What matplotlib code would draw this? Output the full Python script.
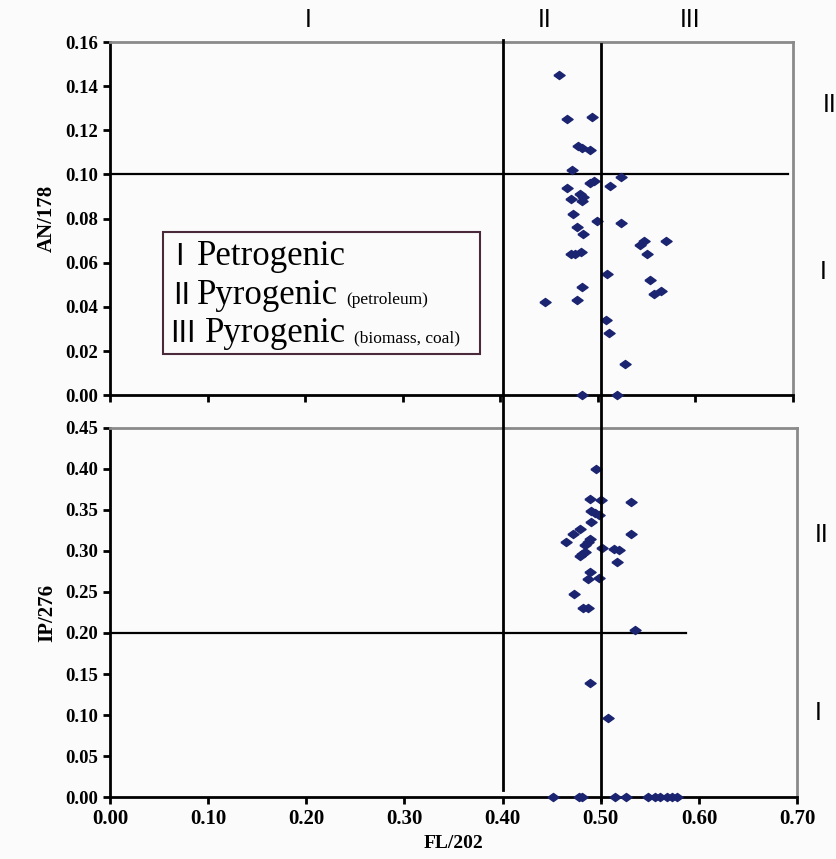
import matplotlib
matplotlib.use("Agg")
import matplotlib.pyplot as plt
from matplotlib.lines import Line2D
from matplotlib.patches import Rectangle
import matplotlib.transforms as mtransforms

# upper panel: FL/202 vs AN/178
fl_an = [0.460, 0.468, 0.494, 0.480, 0.484, 0.492, 0.474, 0.468, 0.492, 0.496,
         0.473, 0.482, 0.484, 0.485, 0.475, 0.499, 0.479, 0.485, 0.473, 0.477,
         0.483, 0.484, 0.446, 0.479, 0.484, 0.524, 0.512, 0.524, 0.547, 0.543,
         0.550, 0.570, 0.509, 0.553, 0.558, 0.565, 0.508, 0.511, 0.528, 0.520]
an_178 = [0.145, 0.125, 0.126, 0.113, 0.112, 0.111, 0.102, 0.094, 0.096, 0.097,
          0.089, 0.091, 0.088, 0.090, 0.082, 0.079, 0.076, 0.073, 0.064, 0.064,
          0.065, 0.049, 0.042, 0.043, 0.000, 0.099, 0.095, 0.078, 0.070, 0.068,
          0.064, 0.070, 0.055, 0.052, 0.046, 0.047, 0.034, 0.028, 0.014, 0.000]

# lower panel: FL/202 vs IP/276
fl_ip = [0.495, 0.489, 0.500, 0.531, 0.490, 0.494, 0.498, 0.490, 0.479, 0.472,
         0.531, 0.465, 0.489, 0.487, 0.484, 0.501, 0.513, 0.519, 0.484, 0.481,
         0.479, 0.516, 0.489, 0.487, 0.498, 0.473, 0.482, 0.487, 0.535, 0.489,
         0.507, 0.451, 0.478, 0.481, 0.514, 0.526, 0.548, 0.555, 0.560, 0.567,
         0.573, 0.578]
ip_276 = [0.400, 0.363, 0.362, 0.360, 0.349, 0.346, 0.344, 0.335, 0.327, 0.320,
          0.321, 0.311, 0.315, 0.311, 0.307, 0.303, 0.302, 0.301, 0.299, 0.296,
          0.294, 0.286, 0.274, 0.266, 0.267, 0.247, 0.230, 0.231, 0.204, 0.139,
          0.096, 0.000, 0.000, 0.000, 0.000, 0.000, 0.000, 0.000, 0.000, 0.000,
          0.000, 0.000]

x_ticks = [0.0, 0.1, 0.2, 0.3, 0.4, 0.5, 0.6, 0.7]
an_ticks = [0.0, 0.02, 0.04, 0.06, 0.08, 0.10, 0.12, 0.14, 0.16]
ip_ticks = [0.0, 0.05, 0.10, 0.15, 0.20, 0.25, 0.30, 0.35, 0.40, 0.45]

bg = "#fbfbfb"
navy = "#1b2470"
diamond = [(-1, 0), (0, 0.72), (1, 0), (0, -0.72), (-1, 0)]
serif = "Liberation Serif"
sans = "Liberation Sans"

fig = plt.figure(figsize=(8.37, 8.59), dpi=100, facecolor=bg)
ax1 = fig.add_axes([0.1314, 0.540, 0.816, 0.411])
ax2 = fig.add_axes([0.1314, 0.072, 0.821, 0.430])


def style(ax, yticks, fmt):
    ax.set_facecolor(bg)
    ax.set_xlim(0, 0.70)
    ax.set_ylim(yticks[0], yticks[-1])
    ax.set_xticks(x_ticks)
    ax.set_yticks(yticks)
    ax.set_yticklabels([fmt % v for v in yticks])
    for s in ["left", "bottom"]:
        ax.spines[s].set_linewidth(2)
        ax.spines[s].set_color("black")
    for s in ["top", "right"]:
        ax.spines[s].set_linewidth(2)
        ax.spines[s].set_color("#8a8a8a")
    ax.tick_params(direction="out", length=5, width=2, top=False, right=False)
    for lab in ax.get_yticklabels():
        lab.set_fontfamily(serif)
        lab.set_fontweight("bold")
        lab.set_fontsize(13.5)


style(ax1, an_ticks, "%.2f")
style(ax2, ip_ticks, "%.2f")
ax1.set_xticklabels([])
ax2.set_xticklabels(["%.2f" % v for v in x_ticks])
for lab in ax2.get_xticklabels():
    lab.set_fontfamily(serif)
    lab.set_fontweight("bold")
    lab.set_fontsize(15)

ax1.scatter(fl_an, an_178, marker=diamond, s=65, color=navy, zorder=5, clip_on=False)
ax2.scatter(fl_ip, ip_276, marker=diamond, s=65, color=navy, zorder=5, clip_on=False)

# threshold lines
ax1.plot([0, 0.695], [0.10, 0.10], color="black", lw=1.6)
ax2.plot([0, 0.587], [0.20, 0.20], color="black", lw=1.6)
trans = mtransforms.blended_transform_factory(ax2.transData, fig.transFigure)
fig.add_artist(Line2D([0.40, 0.40], [1 - 40 / 859, 1 - 790 / 859], transform=trans,
                      color="black", lw=2))
fig.add_artist(Line2D([0.50, 0.50], [1 - 44 / 859, 1 - 800 / 859], transform=trans,
                      color="black", lw=2))

ax1.set_ylabel("AN/178", fontfamily=serif, fontweight="bold", fontsize=15, labelpad=6)
ax2.set_ylabel("IP/276", fontfamily=serif, fontweight="bold", fontsize=15, labelpad=6)
ax2.set_xlabel("FL/202", fontfamily=serif, fontweight="bold", fontsize=14, labelpad=4)

# zone labels
fig.text(308 / 837, 1 - 20 / 859, "I", fontfamily=sans, fontsize=18, ha="center", va="center")
fig.text(545 / 837, 1 - 20 / 859, "II", fontfamily=sans, fontsize=18, ha="center", va="center")
fig.text(690 / 837, 1 - 20 / 859, "III", fontfamily=sans, fontsize=18, ha="center", va="center")
fig.text(830 / 837, 1 - 105 / 859, "II", fontfamily=sans, fontsize=18, ha="center", va="center")
fig.text(823 / 837, 1 - 272 / 859, "I", fontfamily=sans, fontsize=18, ha="center", va="center")
fig.text(822 / 837, 1 - 535 / 859, "II", fontfamily=sans, fontsize=18, ha="center", va="center")
fig.text(818 / 837, 1 - 713 / 859, "I", fontfamily=sans, fontsize=18, ha="center", va="center")

# legend box
box = Rectangle((163 / 837, 1 - 354 / 859), 317 / 837, 122 / 859, transform=fig.transFigure,
                facecolor="none", edgecolor="#4a2a3a", lw=1.5)
fig.add_artist(box)
rows = [("I", "Petrogenic", ""), ("II", "Pyrogenic", "(petroleum)"),
        ("III", "Pyrogenic", "(biomass, coal)")]
baselines = [265, 304, 342]
num_x = [175, 173, 170]
name_x = [197, 197, 205]
for (num, name, sub), y, nx, tx in zip(rows, baselines, num_x, name_x):
    fy = 1 - y / 859
    fig.text(nx / 837, fy, num, fontfamily=sans, fontsize=22, va="baseline")
    t = fig.text(tx / 837, fy, name, fontfamily=serif, fontsize=25, va="baseline")
    if sub:
        fig.canvas.draw()
        bb = t.get_window_extent()
        fig.text((bb.x1 + 8) / 837, fy, sub, fontfamily=serif, fontsize=12.5,
                 va="baseline")

fig.savefig("out.png", dpi=100, facecolor=bg)
